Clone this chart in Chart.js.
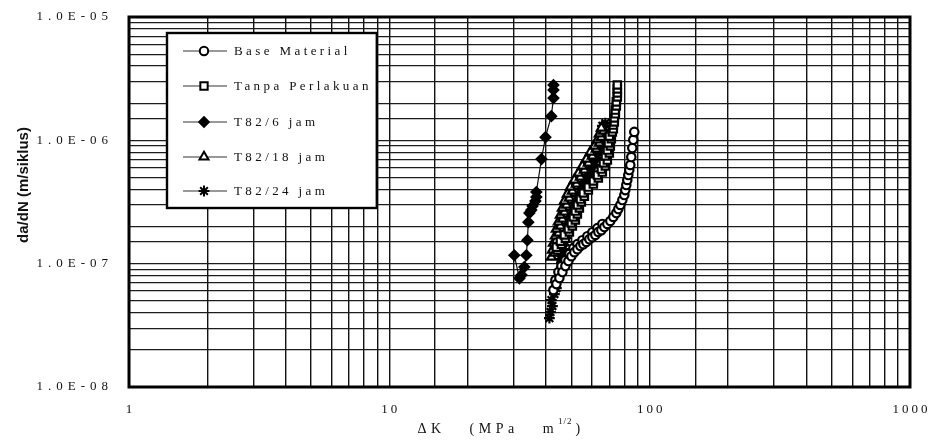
<!DOCTYPE html>
<html>
<head>
<meta charset="utf-8">
<script src="https://cdn.jsdelivr.net/npm/chart.js@4.4.0/dist/chart.umd.min.js"></script>
<style>
  html, body { margin: 0; padding: 0; background: #fff; }
  #wrap { width: 932px; height: 440px; }
</style>
</head>
<body>
<div id="wrap"><canvas id="chart" width="932" height="440"></canvas></div>
<script>
// === Datos (ΔK en MPa m^1/2, da/dN en m/siklus) ===
const seriesNames = ['Base Material', 'Tanpa Perlakuan', 'T82/6 jam', 'T82/18 jam', 'T82/24 jam'];

const baseX = [42.68, 43.44, 43.83, 44.61, 45.00, 45.81, 46.21, 47.45, 47.45, 48.73, 49.16, 50.04, 50.93, 51.38, 52.76, 52.76, 54.18, 55.14, 55.63, 57.12, 57.63, 58.66, 60.23, 60.23, 61.85, 62.95, 63.51, 65.22, 65.79, 66.97, 68.77, 70.61, 72.51, 74.46, 75.78, 77.13, 78.51, 79.91, 80.61, 81.33, 82.05, 82.78, 83.51, 84.25, 85.00, 85.75, 86.51, 87.28];
const baseY = [6.11e-8, 7.36e-8, 6.83e-8, 8.55e-8, 7.64e-8, 9.56e-8, 8.55e-8, 1.07e-7, 9.56e-8, 1.05e-7, 1.20e-7, 1.15e-7, 1.34e-7, 1.24e-7, 1.44e-7, 1.31e-7, 1.39e-7, 1.55e-7, 1.44e-7, 1.50e-7, 1.67e-7, 1.58e-7, 1.80e-7, 1.64e-7, 1.71e-7, 1.94e-7, 1.81e-7, 1.87e-7, 2.10e-7, 1.98e-7, 2.10e-7, 2.22e-7, 2.39e-7, 2.57e-7, 2.77e-7, 2.99e-7, 3.28e-7, 3.60e-7, 3.95e-7, 4.34e-7, 4.77e-7, 5.23e-7, 5.74e-7, 6.31e-7, 7.32e-7, 8.66e-7, 1.01e-6, 1.17e-6];

const tanpaX = [44.22, 43.8, 45.81, 45.4, 47.45, 47.0, 49.16, 48.7, 50.48, 50.0, 51.84, 50.9, 52.76, 51.8, 53.70, 52.8, 54.66, 54.2, 56.12, 55.6, 58.14, 58.1, 60.77, 60.8, 63.51, 63.0, 65.79, 65.2, 67.56, 66.4, 68.77, 67.6, 69.99, 68.8, 70.61, 69.4, 71.24, 70.0, 71.87, 72.51, 72.51, 73.15, 73.15, 73.80, 73.80, 74.46, 74.46, 75.12, 75.12, 75.12, 75.12];
const tanpaY = [1.29e-7, 1.36e-7, 1.44e-7, 1.52e-7, 1.61e-7, 1.71e-7, 1.81e-7, 1.91e-7, 2.02e-7, 2.14e-7, 2.26e-7, 2.39e-7, 2.53e-7, 2.67e-7, 2.83e-7, 2.99e-7, 3.16e-7, 3.34e-7, 3.53e-7, 3.74e-7, 3.95e-7, 4.18e-7, 4.42e-7, 4.68e-7, 4.95e-7, 5.23e-7, 5.53e-7, 5.85e-7, 6.19e-7, 6.55e-7, 6.92e-7, 7.46e-7, 7.89e-7, 8.34e-7, 8.99e-7, 9.51e-7, 1.03e-6, 1.08e-6, 1.17e-6, 1.24e-6, 1.33e-6, 1.41e-6, 1.52e-6, 1.64e-6, 1.76e-6, 1.90e-6, 2.05e-6, 2.25e-6, 2.42e-6, 2.61e-6, 2.81e-6];

const t6X = [30.2, 31.6, 32.2, 33.0, 33.6, 33.9, 34.2, 34.5, 35.1, 35.5, 36.4, 36.7, 36.7, 38.4, 39.8, 41.9, 42.7, 42.7, 42.7];
const t6Y = [1.17e-7, 7.6e-8, 8.1e-8, 9.4e-8, 1.17e-7, 1.55e-7, 2.17e-7, 2.57e-7, 2.72e-7, 2.93e-7, 3.22e-7, 3.47e-7, 3.81e-7, 7.05e-7, 1.06e-6, 1.57e-6, 2.20e-6, 2.56e-6, 2.81e-6];

const t18X = [41.94, 43.06, 42.31, 43.44, 42.68, 43.83, 43.44, 44.61, 43.83, 45.40, 44.61, 46.21, 45.40, 47.04, 46.21, 47.88, 47.04, 49.16, 48.30, 50.48, 49.60, 52.30, 51.38, 54.18, 53.23, 56.12, 55.14, 58.14, 57.12, 60.23, 59.18, 62.40, 61.31, 64.07, 62.95, 65.22, 64.07, 66.38, 65.22];
const t18Y = [1.13e-7, 1.22e-7, 1.29e-7, 1.39e-7, 1.47e-7, 1.55e-7, 1.68e-7, 1.77e-7, 1.91e-7, 2.02e-7, 2.18e-7, 2.30e-7, 2.48e-7, 2.62e-7, 2.83e-7, 2.99e-7, 3.22e-7, 3.41e-7, 3.67e-7, 3.88e-7, 4.18e-7, 4.42e-7, 4.77e-7, 5.04e-7, 5.43e-7, 5.74e-7, 6.19e-7, 6.55e-7, 7.05e-7, 7.46e-7, 8.04e-7, 8.50e-7, 8.99e-7, 9.51e-7, 1.01e-6, 1.06e-6, 1.13e-6, 1.19e-6, 1.26e-6];

const t24X = [41.20, 41.57, 42.31, 41.94, 43.06, 43.83, 43.44, 44.61, 45.40, 45.81, 45.40, 46.21, 45.81, 46.62, 46.21, 47.45, 47.04, 48.30, 47.88, 48.73, 48.30, 49.60, 49.16, 50.93, 50.48, 51.84, 51.38, 53.23, 52.76, 54.66, 54.18, 56.12, 55.63, 57.63, 57.63, 59.70, 59.18, 61.31, 60.77, 62.95, 62.40, 64.64, 64.07, 65.79, 64.64, 66.38, 65.22, 66.97, 65.79, 67.56];
const t24Y = [3.62e-8, 4.05e-8, 4.53e-8, 5.07e-8, 5.67e-8, 6.34e-8, 7.09e-8, 7.93e-8, 8.87e-8, 1.01e-7, 1.09e-7, 1.15e-7, 1.24e-7, 1.31e-7, 1.42e-7, 1.50e-7, 1.61e-7, 1.71e-7, 1.84e-7, 1.95e-7, 2.10e-7, 2.22e-7, 2.39e-7, 2.53e-7, 2.72e-7, 2.88e-7, 3.10e-7, 3.28e-7, 3.53e-7, 3.74e-7, 4.03e-7, 4.26e-7, 4.59e-7, 4.85e-7, 5.23e-7, 5.53e-7, 5.96e-7, 6.31e-7, 6.80e-7, 7.19e-7, 7.74e-7, 8.19e-7, 8.82e-7, 9.33e-7, 1.01e-6, 1.06e-6, 1.15e-6, 1.21e-6, 1.31e-6, 1.38e-6];

const xTickValues = [1, 10, 100, 1000];
const xTickLabels = ['1', '10', '100', '1000'];
const yTickValues = [1e-5, 1e-6, 1e-7, 1e-8];
const yTickLabels = ['1.0E-05', '1.0E-06', '1.0E-07', '1.0E-08'];

const toPoints = (xs, ys) => xs.map((x, i) => ({ x: x, y: ys[i] }));

// estilos de marcador por serie
const markers = [
    { style: 'circle', radius: 4.2, fill: '#fff' },
    { style: 'rect', radius: 5.2, fill: '#fff' },
    { style: 'rectRot', radius: 4.8, fill: '#000' },
    { style: 'triangle', radius: 5.2, fill: '#fff' },
    { style: 'star', radius: 5.4, fill: '#000' }
];
const allData = [
    toPoints(baseX, baseY),
    toPoints(tanpaX, tanpaY),
    toPoints(t6X, t6Y),
    toPoints(t18X, t18Y),
    toPoints(t24X, t24Y)
];

const datasets = allData.map((d, i) => ({
    label: seriesNames[i],
    data: d,
    showLine: true,
    borderColor: '#111',
    borderWidth: 1.2,
    pointStyle: markers[i].style,
    pointRadius: markers[i].radius,
    pointBackgroundColor: markers[i].fill,
    pointBorderColor: '#000',
    pointBorderWidth: 2.2
}));

const SERIF = '"Liberation Serif", "DejaVu Serif", serif';

function spacedText(ctx, text, x, y, align, spacing) {
    ctx.save();
    ctx.letterSpacing = spacing + 'px';
    let w = ctx.measureText(text).width;
    let sx = x;
    if (align === 'right') sx = x - w + spacing;
    else if (align === 'center') sx = x - (w - spacing) / 2;
    ctx.textAlign = 'left';
    ctx.fillText(text, sx, y);
    ctx.restore();
    return w;
}

// === Decoración: marco, etiquetas, leyenda ===
const decorPlugin = {
    id: 'decor',
    afterDraw(chart) {
        const ctx = chart.ctx;
        const a = chart.chartArea;
        const xs = chart.scales.x;
        const ys = chart.scales.y;

        ctx.save();
        ctx.strokeStyle = '#000';
        ctx.lineWidth = 3;
        ctx.strokeRect(a.left, a.top, a.right - a.left, a.bottom - a.top);

        ctx.fillStyle = '#111';
        ctx.textBaseline = 'middle';
        ctx.font = '13px ' + SERIF;
        yTickValues.forEach((v, i) => {
            spacedText(ctx, yTickLabels[i], 108, ys.getPixelForValue(v), 'right', 5);
        });
        xTickValues.forEach((v, i) => {
            spacedText(ctx, xTickLabels[i], xs.getPixelForValue(v), 410, 'center', 3);
        });

        // título eje x
        const part1 = 'ΔK   (MPa   m';
        ctx.font = '14px ' + SERIF;
        ctx.letterSpacing = '4.5px';
        const w1 = ctx.measureText(part1).width;
        ctx.font = '9px ' + SERIF;
        ctx.letterSpacing = '1px';
        const w2 = ctx.measureText('1/2').width;
        let sx = 500 - (w1 + w2 + 10) / 2;
        ctx.textAlign = 'left';
        ctx.font = '14px ' + SERIF;
        ctx.letterSpacing = '4.5px';
        ctx.fillText(part1, sx, 429);
        ctx.font = '9px ' + SERIF;
        ctx.letterSpacing = '1px';
        ctx.fillText('1/2', sx + w1, 422);
        ctx.font = '14px ' + SERIF;
        ctx.letterSpacing = '0px';
        ctx.fillText(')', sx + w1 + w2 + 3, 429);

        // título eje y
        ctx.save();
        ctx.translate(24, 185);
        ctx.rotate(-Math.PI / 2);
        ctx.font = 'bold 15px "Liberation Sans", Arial, sans-serif';
        ctx.textAlign = 'center';
        ctx.fillStyle = '#111';
        ctx.fillText('da/dN (m/siklus)', 0, 0);
        ctx.restore();

        // leyenda
        const lx = 167, ly = 33, rowY = [51, 86, 122, 157, 191];
        ctx.font = '13px ' + SERIF;
        ctx.letterSpacing = '3.4px';
        let maxW = 0;
        seriesNames.forEach(n => { maxW = Math.max(maxW, ctx.measureText(n).width); });
        ctx.letterSpacing = '0px';
        const lr = 233 + maxW + 6;
        ctx.fillStyle = '#fff';
        ctx.fillRect(lx, ly, lr - lx, 208 - ly);
        ctx.strokeStyle = '#000';
        ctx.lineWidth = 2.4;
        ctx.strokeRect(lx, ly, lr - lx, 208 - ly);
        seriesNames.forEach((n, i) => {
            const y = rowY[i];
            ctx.strokeStyle = '#333';
            ctx.lineWidth = 1;
            ctx.beginPath();
            ctx.moveTo(183, y);
            ctx.lineTo(227, y);
            ctx.stroke();
            ctx.fillStyle = markers[i].fill;
            ctx.strokeStyle = '#000';
            ctx.lineWidth = 2;
            Chart.helpers.drawPoint(ctx, { pointStyle: markers[i].style, radius: markers[i].radius, rotation: 0, borderWidth: 2 }, 204, y);
            ctx.fillStyle = '#111';
            ctx.font = '13px ' + SERIF;
            ctx.textBaseline = 'middle';
            spacedText(ctx, n, 234, y + 1, 'left', 3.4);
        });
        ctx.restore();
    }
};

const chart = new Chart(document.getElementById('chart'), {
    type: 'scatter',
    data: { datasets: datasets },
    options: {
        responsive: false,
        animation: false,
        devicePixelRatio: 1,
        layout: { padding: { left: 0, right: 22, top: 17, bottom: 0 } },
        plugins: {
            legend: { display: false },
            tooltip: { enabled: false }
        },
        scales: {
            x: {
                type: 'logarithmic',
                min: 1,
                max: 1000,
                ticks: { display: false, autoSkip: false },
                grid: { drawTicks: false, color: '#111', lineWidth: 1.4 },
                border: { display: false },
                afterFit(s) { s.height = 53; }
            },
            y: {
                type: 'logarithmic',
                min: 1e-8,
                max: 1e-5,
                ticks: { display: false, autoSkip: false },
                grid: { drawTicks: false, color: '#1c1c1c', lineWidth: 1.2 },
                border: { display: false },
                afterFit(s) { s.width = 129; }
            }
        }
    },
    plugins: [decorPlugin]
});
</script>
</body>
</html>
